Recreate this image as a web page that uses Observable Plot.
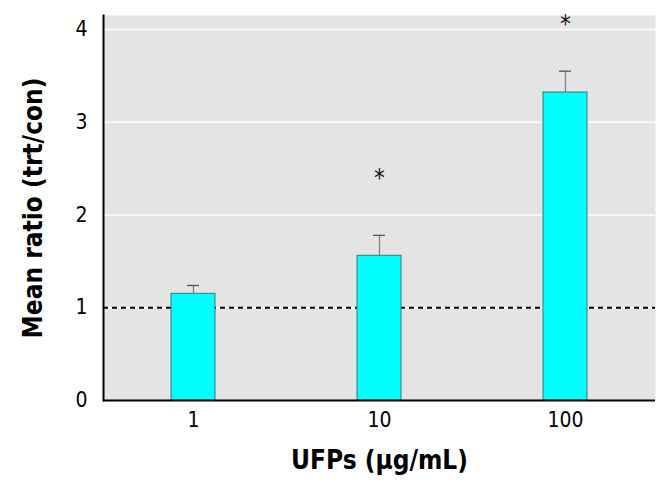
<!DOCTYPE html>
<html>
<head>
<meta charset="utf-8">
<script src="https://cdn.jsdelivr.net/npm/d3@7"></script>
<script src="https://cdn.jsdelivr.net/npm/@observablehq/plot@0.6"></script>
<style>
  html, body { margin: 0; padding: 0; background: #fff; }
  #chart svg { display: block; }
  #chart svg text { font-stretch: condensed; }
</style>
</head>
<body>
<div id="chart"></div>
<script>
const doses = ["1", "10", "100"];
const means = [1.15, 1.56, 3.32];
const upperErr = [1.24, 1.78, 3.55];
const asteriskY = [null, 2.40, 4.06];
const yTicks = [0, 1, 2, 3, 4];
const gridValues = [1, 2, 3, 4];
const referenceLine = [1];
const yLabel = "Mean ratio (trt/con)";
const xLabel = "UFPs (\u03bcg/mL)";

const rows = doses.map((d, i) => ({dose: d, mean: means[i], upper: upperErr[i], star: asteriskY[i]}));
const stars = rows.filter(r => r.star != null);

const font = "'DejaVu Sans Condensed', 'DejaVu Sans', sans-serif";

const chart = Plot.plot({
  width: 667,
  height: 485,
  marginLeft: 103,
  marginRight: 12,
  marginTop: 15,
  marginBottom: 85,
  style: {fontFamily: font, background: "#fff", color: "#000"},
  x: {domain: doses, paddingInner: 0.762, paddingOuter: 0.36, label: null},
  y: {domain: [0, 4.15], label: null},
  marks: [
    Plot.frame({fill: "#e4e4e4", stroke: null}),
    Plot.ruleY(gridValues, {stroke: "#fff", strokeWidth: 1.5}),
    Plot.ruleY(referenceLine, {stroke: "#000", strokeWidth: 1.8, strokeDasharray: "5,4"}),
    Plot.ruleX(rows, {x: "dose", y1: "mean", y2: "upper", stroke: "#808080", strokeWidth: 1.3}),
    Plot.tickY(rows, {x: "dose", y: "upper", stroke: "#555", strokeWidth: 1.3, insetLeft: 16, insetRight: 16}),
    Plot.barY(rows, {x: "dose", y: "mean", fill: "#00ffff", stroke: "#2f7d7d", strokeWidth: 1}),
    Plot.text(stars, {x: "dose", y: "star", text: () => "*", fontSize: 24, fill: "#111"}),
    Plot.ruleY([0], {stroke: "#000", strokeWidth: 2}),
    Plot.frame({anchor: "left", stroke: "#000", strokeWidth: 2}),
    Plot.axisY({ticks: yTicks, tickSize: 0, tickPadding: 16, fontSize: 21, label: null, tickFormat: d => d}),
    Plot.axisX({tickSize: 0, tickPadding: 12, fontSize: 21, label: null}),
    Plot.text([yLabel], {frameAnchor: "left", textAnchor: "middle", lineAnchor: "middle", rotate: -90, dx: -70, fontSize: 26, fontWeight: "bold", text: d => d}),
    Plot.text([xLabel], {frameAnchor: "bottom", textAnchor: "middle", lineAnchor: "middle", dy: 60, fontSize: 26, fontWeight: "bold", text: d => d})
  ]
});
document.getElementById("chart").appendChild(chart);
</script>
</body>
</html>
